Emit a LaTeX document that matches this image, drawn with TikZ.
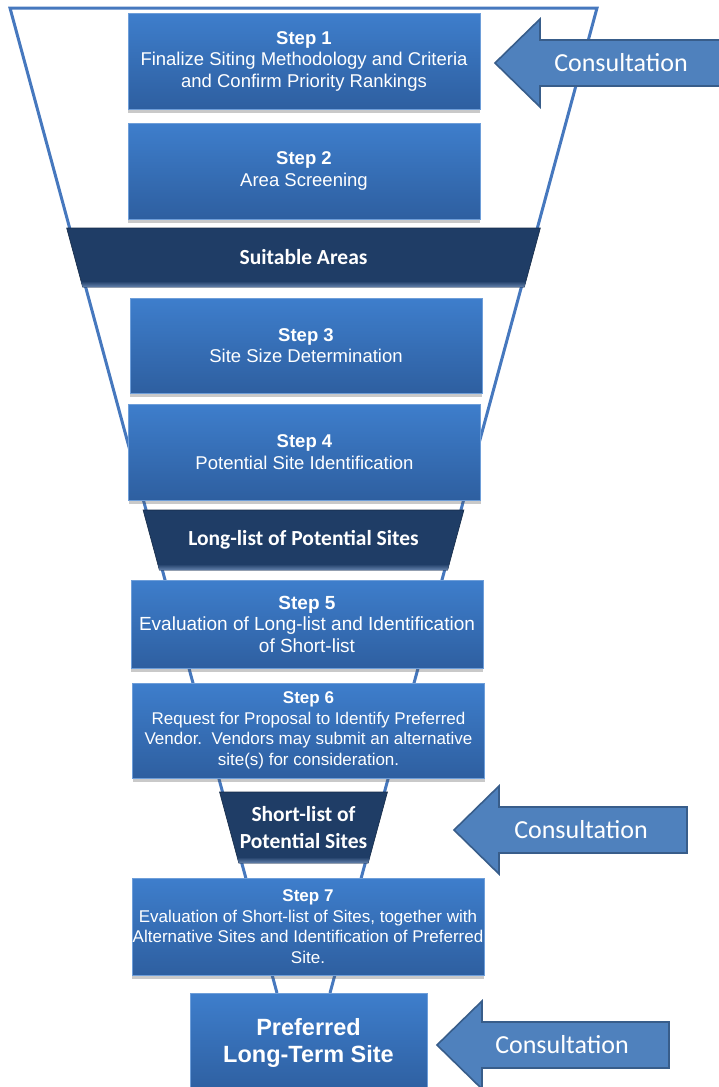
\documentclass[tikz,border=0pt]{standalone}
\usepackage{fontspec}
\setmainfont{Liberation Sans}
\newfontfamily\carlito{Carlito}
\usetikzlibrary{shadows}

\definecolor{funnelblue}{RGB}{70,120,190}
\definecolor{boxtop}{RGB}{62,126,204}
\definecolor{boxbottom}{RGB}{46,95,160}
\definecolor{bandnavy}{RGB}{31,61,102}
\definecolor{bandlight}{RGB}{100,130,172}
\definecolor{arrowblue}{RGB}{79,129,189}
\definecolor{arrowedge}{RGB}{56,93,138}

\tikzset{
  stepbox/.style={rectangle, draw=boxtop!75!white, line width=0.8pt,
    top color=boxtop, bottom color=boxbottom, text=white, align=center,
    minimum width=352, minimum height=96, inner sep=0pt,
    font=\fontsize{18.5}{21.5}\selectfont,
    drop shadow={shadow xshift=0pt, shadow yshift=-4pt, opacity=0.3, fill=black!70}},
  smalltext/.style={font=\fontsize{17}{20.5}\selectfont},
  bandtext/.style={text=white, align=center, font=\carlito\bfseries\fontsize{21.5}{27}\selectfont},
  consulttext/.style={text=white, font=\carlito\fontsize{26}{30}\selectfont},
  funnel/.style={draw=funnelblue, line width=3pt, line join=miter},
  consultarrow/.style={fill=arrowblue, draw=arrowedge, line width=1.6pt, line join=miter},
}

% dark band across the funnel: name, top y, bottom y, text
\newcommand{\funnelband}[4]{%
  \fill[bandnavy, draw=bandnavy!70!black, line width=0.6pt]
    ({7+0.2711*(#2-8)},#2) -- ({600-0.2711*(#2-8)},#2)
    -- ({600-0.2711*(#3-8)},#3) -- ({7+0.2711*(#3-8)},#3) -- cycle;
  \shade[top color=bandnavy, bottom color=bandlight]
    ({7+0.2711*(#3-14)},{#3-6}) -- ({600-0.2711*(#3-14)},{#3-6})
    -- ({600-0.2711*(#3-8)},#3) -- ({7+0.2711*(#3-8)},#3) -- cycle;
  \node[bandtext] (#1) at (303.5,{(#2+#3)/2}) {#4};
}

% block arrow pointing left: name, tip x, tip y, right end x, text x
\newcommand{\consultation}[5]{%
  \draw[consultarrow] (#2,#3) -- ++(45,-44) -- ++(0,21) -- (#4,{#3-23})
    -- (#4,{#3+23}) -- ({#2+45},{#3+23}) -- ++(0,21) -- cycle;
  \node[consulttext] (#1) at (#5,#3) {Consultation};
}

\begin{document}
\begin{tikzpicture}[x=1pt,y=-1pt]
  \useasboundingbox (0,0) rectangle (718,1087);

  % Funnel
  \draw[funnel] (277,993) -- (10,8) -- (597,8) -- (330,993);

  % Bands
  \funnelband{suitable}{228}{287}{Suitable Areas}
  \funnelband{longlist}{510}{570}{Long-list of Potential Sites}
  \funnelband{shortlist}{792}{863}{Short-list of\\Potential Sites}

  % Steps
  \node[stepbox] (step1) at (304,61) {\textbf{Step 1}\\Finalize Siting Methodology and Criteria\\and Confirm Priority Rankings};
  \node[stepbox] (step2) at (304,171) {\textbf{Step 2}\\Area Screening};
  \node[stepbox, minimum height=95] (step3) at (306,345.5) {\textbf{Step 3}\\Site Size Determination};
  \node[stepbox] (step4) at (304.5,452) {\textbf{Step 4}\\Potential Site Identification};
  \node[stepbox, minimum height=88, font=\fontsize{19}{21.5}\selectfont] (step5) at (307,624) {\textbf{Step 5}\\Evaluation of Long-list and Identification\\of Short-list};
  \node[stepbox, smalltext, minimum height=95] (step6) at (308.5,730.5)
    {\textbf{Step 6}\\Request for Proposal to Identify Preferred\\Vendor.\ \ Vendors may submit an alternative\\site(s) for consideration.};
  \node[stepbox, smalltext, minimum height=97] (step7) at (308,926.5)
    {\textbf{Step 7}\\Evaluation of Short-list of Sites, together with\\Alternative Sites and Identification of Preferred\\Site.};
  \node[stepbox, minimum width=237, minimum height=100, font=\bfseries\fontsize{23.5}{27}\selectfont] (pref) at (308.5,1043)
    {Preferred\\Long-Term Site};

  % Consultation
  \consultation{consult1}{495}{63}{726}{621}
  \consultation{consult2}{454}{830}{687}{581}
  \consultation{consult3}{437}{1045}{669}{562}
\end{tikzpicture}
\end{document}
